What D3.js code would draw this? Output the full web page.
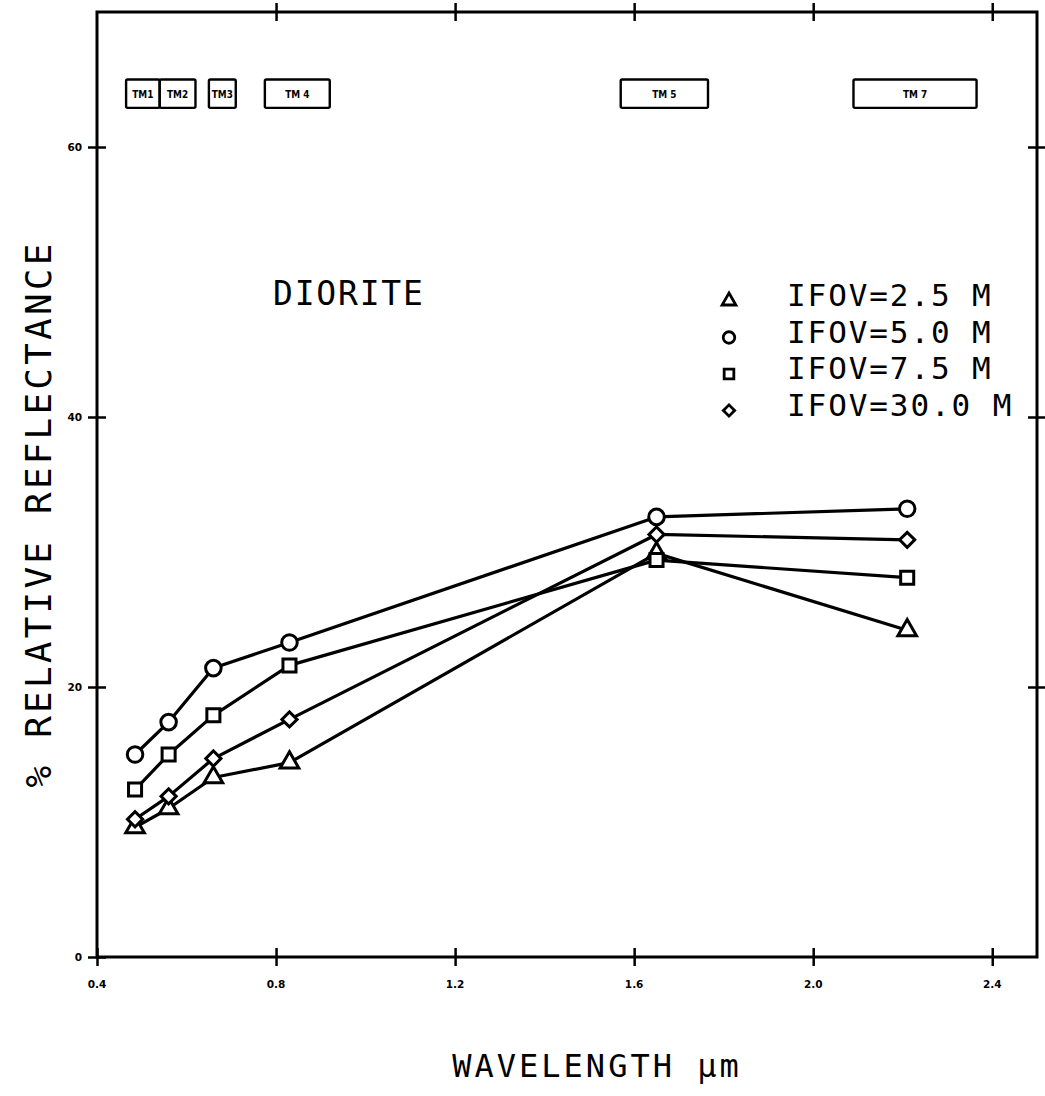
<!DOCTYPE html>
<html>
<head>
<meta charset="utf-8">
<script src="https://cdn.jsdelivr.net/npm/d3@7"></script>
<style>
  html, body { margin: 0; padding: 0; background: #fff; }
  svg { display: block; }
</style>
</head>
<body>
<svg id="chart" width="1045" height="1096"></svg>
<script>
// ---- data ----
const wavelengths = [0.485, 0.56, 0.66, 0.83, 1.65, 2.21];
const ifov25  = [9.6, 11.0, 13.3, 14.4, 29.9, 24.2];
const ifov50  = [15.0, 17.4, 21.4, 23.3, 32.6, 33.2];
const ifov75  = [12.4, 15.0, 17.9, 21.6, 29.4, 28.1];
const ifov300 = [10.2, 11.9, 14.7, 17.6, 31.3, 30.9];
const seriesNames = ["IFOV=2.5 M", "IFOV=5.0 M", "IFOV=7.5 M", "IFOV=30.0 M"];
const seriesSymbols = ["triangle", "circle", "square", "diamond"];
const xTickValues = [0.4, 0.8, 1.2, 1.6, 2.0, 2.4];
const xTickLabels = ["0.4", "0.8", "1.2", "1.6", "2.0", "2.4"];
const yTickValues = [0, 20, 40, 60];
const yTickLabels = ["0", "20", "40", "60"];
const bandNames = ["TM1", "TM2", "TM3", "TM 4", "TM 5", "TM 7"];
const bandStart = [0.465, 0.54, 0.65, 0.775, 1.57, 2.09];
const bandEnd   = [0.54, 0.62, 0.71, 0.92, 1.765, 2.365];
const bandLow = 62.9, bandHigh = 65.0;

(function () {
// ---- layout ----
const svg = d3.select("#chart");
const L = 97, R = 1037, T = 12, B = 957;
const x = d3.scaleLinear().domain([0.4, 2.5]).range([L, R]);
const y = d3.scaleLinear().domain([0, 70]).range([B, T]);
const sw = 3.2;

// frame
svg.append("rect").attr("x", L).attr("y", T)
  .attr("width", R - L).attr("height", B - T)
  .attr("fill", "none").attr("stroke", "#000").attr("stroke-width", 3);

// axes via d3 axis generators (crossing ticks)
function styleAxis(g) {
  g.select(".domain").remove();
  g.selectAll(".tick line").attr("stroke", "#000").attr("stroke-width", 2.5);
  g.selectAll(".tick text").remove();
}
const xb = svg.append("g").attr("transform", `translate(0,${B})`)
  .call(d3.axisBottom(x).tickValues(xTickValues).tickSize(9));
styleAxis(xb);
xb.selectAll(".tick line").attr("y1", -9).attr("y2", 9);

const xt = svg.append("g").attr("transform", `translate(0,${T})`)
  .call(d3.axisTop(x).tickValues(xTickValues.slice(1)).tickSize(9));
styleAxis(xt);
xt.selectAll(".tick line").attr("y1", -9).attr("y2", 9);

const yl = svg.append("g").attr("transform", `translate(${L},0)`)
  .call(d3.axisLeft(y).tickValues(yTickValues).tickSize(9));
styleAxis(yl);
yl.selectAll(".tick line").attr("x1", -9).attr("x2", 9);

const yr = svg.append("g").attr("transform", `translate(${R},0)`)
  .call(d3.axisRight(y).tickValues(yTickValues.slice(1)).tickSize(9));
styleAxis(yr);
yr.selectAll(".tick line").attr("x1", -9).attr("x2", 9);

// tick labels
const tickFont = "'DejaVu Sans', sans-serif";
svg.append("g").selectAll("text").data(xTickValues).join("text")
  .attr("x", d => x(d)).attr("y", B + 31)
  .attr("text-anchor", "middle")
  .attr("font-family", tickFont).attr("font-weight", "bold").attr("font-size", 10.5)
  .text((d, i) => xTickLabels[i]);
svg.append("g").selectAll("text").data(yTickValues).join("text")
  .attr("x", L - 15).attr("y", d => y(d) + 4)
  .attr("text-anchor", "end")
  .attr("font-family", tickFont).attr("font-weight", "bold").attr("font-size", 10.5)
  .text((d, i) => yTickLabels[i]);

// TM band boxes
const bands = bandNames.map((n, i) => ({ name: n, s: bandStart[i], e: bandEnd[i] }));
const bg = svg.append("g");
bg.selectAll("rect").data(bands).join("rect")
  .attr("x", d => x(d.s)).attr("y", y(bandHigh))
  .attr("width", d => x(d.e) - x(d.s)).attr("height", y(bandLow) - y(bandHigh))
  .attr("rx", 1.5)
  .attr("fill", "none").attr("stroke", "#000").attr("stroke-width", 2.4);
bg.selectAll("text").data(bands).join("text")
  .attr("x", d => (x(d.s) + x(d.e)) / 2)
  .attr("y", (y(bandHigh) + y(bandLow)) / 2 + 4)
  .attr("text-anchor", "middle")
  .attr("font-family", tickFont).attr("font-weight", "bold").attr("font-size", 10.5)
  .attr("transform", d => `translate(${(x(d.s) + x(d.e)) / 2},0) scale(0.85,1) translate(${-(x(d.s) + x(d.e)) / 2},0)`)
  .text(d => d.name);

// series
const allSeries = [ifov25, ifov50, ifov75, ifov300].map((vals, i) => ({
  name: seriesNames[i], symbol: seriesSymbols[i],
  points: vals.map((v, j) => ({ x: wavelengths[j], y: v }))
}));
const symType = { triangle: d3.symbolTriangle, circle: d3.symbolCircle, square: d3.symbolSquare, diamond: d3.symbolSquare };
const symSize = { triangle: 150, circle: 190, square: 170, diamond: 115 };
const symRot = { triangle: 0, circle: 0, square: 0, diamond: 45 };

const line = d3.line().x(d => x(d.x)).y(d => y(d.y));
svg.append("g").selectAll("path").data(allSeries).join("path")
  .attr("d", d => line(d.points))
  .attr("fill", "none").attr("stroke", "#000").attr("stroke-width", sw)
  .attr("stroke-linejoin", "round");

const mg = svg.append("g");
allSeries.forEach(s => {
  mg.append("g").selectAll("path").data(s.points).join("path")
    .attr("transform", d => `translate(${x(d.x)},${y(d.y)}) rotate(${symRot[s.symbol]})`)
    .attr("d", d3.symbol().type(symType[s.symbol]).size(symSize[s.symbol]))
    .attr("fill", "#fff").attr("stroke", "#000").attr("stroke-width", 3);
});

// legend
const mono = "'DejaVu Sans Mono', monospace";
const legX = 729, legTextX = 787, legY0 = 306, legDy = 36.5;
const lg = svg.append("g");
allSeries.forEach((s, i) => {
  const yy = legY0 + i * legDy;
  lg.append("path")
    .attr("transform", `translate(${legX},${yy - 5}) rotate(${symRot[s.symbol]})`)
    .attr("d", d3.symbol().type(symType[s.symbol]).size(symSize[s.symbol] * 0.55))
    .attr("fill", "#fff").attr("stroke", "#000").attr("stroke-width", 2.8);
  lg.append("text")
    .attr("x", legTextX).attr("y", yy)
    .attr("font-family", mono).attr("font-size", 31)
    .attr("letter-spacing", 1.9)
    .text(s.name);
});

// annotation
svg.append("text").attr("x", 273).attr("y", 305)
  .attr("font-family", mono).attr("font-size", 33).attr("letter-spacing", 1.8)
  .text("DIORITE");

// axis titles
svg.append("text").attr("x", 597).attr("y", 1077)
  .attr("text-anchor", "middle")
  .attr("font-family", mono).attr("font-size", 32).attr("letter-spacing", 3)
  .text("WAVELENGTH µm");
svg.append("text")
  .attr("transform", `translate(51,514) rotate(-90)`)
  .attr("text-anchor", "middle")
  .attr("font-family", mono).attr("font-size", 36).attr("letter-spacing", 3.2)
  .text("% RELATIVE REFLECTANCE");
})();
</script>
</body>
</html>
